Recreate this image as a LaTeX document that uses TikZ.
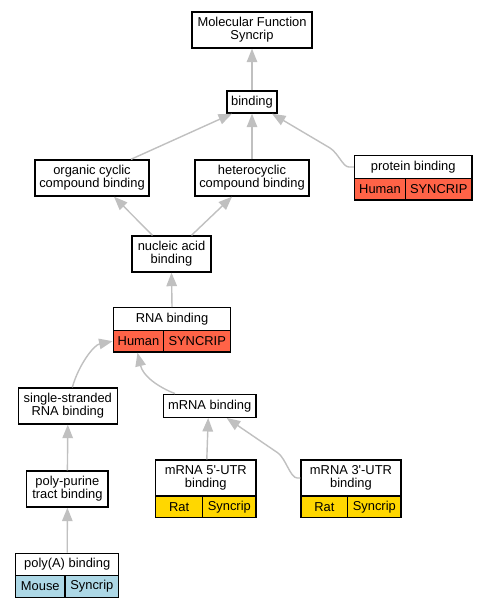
\documentclass[tikz,border=0pt]{standalone}
\usepackage{fontspec}
\setmainfont{Liberation Sans}
\usetikzlibrary{arrows.meta}
\definecolor{edgegray}{RGB}{192,192,192}
\definecolor{tomatoc}{RGB}{255,99,71}
\definecolor{goldc}{RGB}{255,215,0}
\definecolor{bluec}{RGB}{173,216,230}
\begin{document}
\begin{tikzpicture}[x=1pt,y=-1pt,
  box/.style={draw=black, line width=1.4pt, fill=white, inner sep=0pt, align=center,
    font=\fontsize{12.9}{12.8}\selectfont, text=black},
  cell/.style={box},
  edge/.style={draw=edgegray, line width=1.4pt, -{Triangle[width=10.5pt,length=13.5pt]}}]
\useasboundingbox (0,0) rectangle (488,608);
\fill[white] (0,0) rectangle (488,608);
% nodes
\node[box, minimum width=120pt, minimum height=36pt] (mf) at (252,30) {Molecular Function\\Syncrip};
\node[box, minimum width=50pt, minimum height=22pt] (binding) at (252,102) {binding};
\node[box, minimum width=114pt, minimum height=36pt] (organic) at (92,178) {organic cyclic\\compound binding};
\node[box, minimum width=114pt, minimum height=36pt] (hetero) at (252,178) {heterocyclic\\compound binding};
\node[box, minimum width=117.3pt, minimum height=22.6pt] (ptitle) at (413.3,167) {protein binding};
\node[cell, fill=tomatoc, minimum width=50.6pt, minimum height=21.7pt] (phuman) at (380,189.2) {Human};
\node[cell, fill=tomatoc, minimum width=66.7pt, minimum height=21.7pt] (psync) at (438.7,189.2) {SYNCRIP};
\node[box, minimum width=79pt, minimum height=36pt] (nucleic) at (171.5,254) {nucleic acid\\binding};
\node[box, minimum width=117.4pt, minimum height=22.6pt] (rtitle) at (172,319) {RNA binding};
\node[cell, fill=tomatoc, minimum width=50.4pt, minimum height=21.7pt] (rhuman) at (138.5,341.2) {Human};
\node[cell, fill=tomatoc, minimum width=67pt, minimum height=21.7pt] (rsync) at (197.2,341.2) {SYNCRIP};
\node[box, minimum width=99pt, minimum height=36pt] (single) at (67.8,406) {single-stranded\\RNA binding};
\node[box, minimum width=92.7pt, minimum height=23pt] (mrna) at (209.7,405.8) {mRNA binding};
\node[box, minimum width=81.3pt, minimum height=36pt] (pp) at (67.4,489) {poly-purine\\tract binding};
\node[box, minimum width=103pt, minimum height=22.4pt] (patitle) at (67.2,564.5) {poly(A) binding};
\node[cell, fill=bluec, minimum width=49.3pt, minimum height=21.6pt] (pamouse) at (40.3,586.5) {Mouse};
\node[cell, fill=bluec, minimum width=53.7pt, minimum height=21.6pt] (pasync) at (91.8,586.5) {Syncrip};
\node[box, minimum width=100.3pt, minimum height=36pt] (u5title) at (205.8,478) {mRNA 5\textquotesingle-UTR\\binding};
\node[cell, fill=goldc, minimum width=47pt, minimum height=21.3pt] (u5rat) at (179.2,506.7) {Rat};
\node[cell, fill=goldc, minimum width=53.3pt, minimum height=21.3pt] (u5sync) at (229.3,506.7) {Syncrip};
\node[box, minimum width=100pt, minimum height=36pt] (u3title) at (351,478) {mRNA 3\textquotesingle-UTR\\binding};
\node[cell, fill=goldc, minimum width=46.7pt, minimum height=21.3pt] (u3rat) at (324.3,506.7) {Rat};
\node[cell, fill=goldc, minimum width=53.3pt, minimum height=21.3pt] (u3sync) at (374.3,506.7) {Syncrip};
% edges
\draw[edge] (binding.north) -- (mf.south);
\draw[edge] ([xshift=39pt]organic.north) -- ([xshift=-20pt]binding.south);
\draw[edge] (hetero.north) -- (binding.south);
\draw[edge] (ptitle.west) -- ++(-5,0) .. controls +(-6,0) and (338.5,153.5) .. (330,148) -- ([xshift=20pt]binding.south);
\draw[edge] ([xshift=-19pt]nucleic.north) -- ([xshift=22pt]organic.south);
\draw[edge] ([xshift=20pt]nucleic.north) -- ([xshift=-20pt]hetero.south);
\draw[edge] (rtitle.north) -- (nucleic.south);
\draw[edge] ([xshift=4.5pt]single.north) .. controls (79,364) and (94,345) .. (rhuman.west);
\draw[edge] ([xshift=-34.7pt]mrna.north) .. controls (158,387) and (143,376) .. ([xshift=-1pt]rhuman.south);
\draw[edge] (pp.north) -- (single.south);
\draw[edge] (patitle.north) -- (pp.south);
\draw[edge] ([xshift=1pt]u5title.north) -- ([xshift=-1.5pt]mrna.south);
\draw[edge] (u3title.west) -- ++(-3,0) .. controls +(-7,0) and (286,459) .. (278,453) -- ([xshift=17pt]mrna.south);
\end{tikzpicture}
\end{document}
